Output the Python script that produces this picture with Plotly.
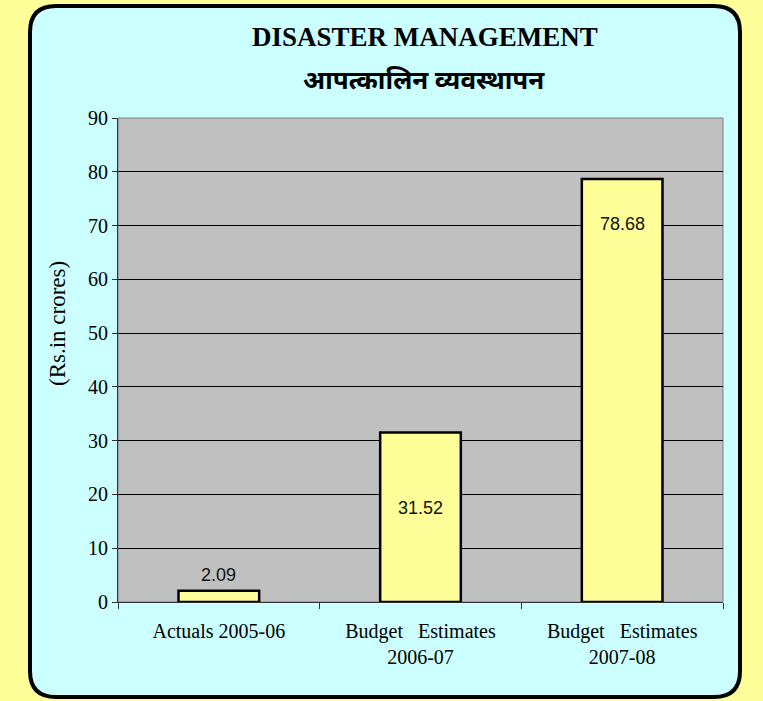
import plotly.graph_objects as go

# chart data
categories = ["Actuals 2005-06", "Budget   Estimates<br>2006-07", "Budget   Estimates<br>2007-08"]
values = [2.09, 31.52, 78.68]
y_ticks = [0, 10, 20, 30, 40, 50, 60, 70, 80, 90]

title_en = "DISASTER MANAGEMENT"
title_hi = "आपत्कालिन व्यवस्थापन"
y_title = "(Rs.in crores)"

W, H = 763, 701
L, R, T, B = 118, 40, 118, 99
serif = "Liberation Serif, Times New Roman, serif"
sans = "Liberation Sans Narrow, Arial Narrow, Liberation Sans, sans-serif"


def px_x(p):
    return (p - L) / (W - L - R)


def px_y(p):
    return (H - B - p) / (H - T - B)


def rounded_box(x0, y0, x1, y1, r):
    # path in paper units built from pixel corners
    rx = r / (W - L - R)
    ry = r / (H - T - B)
    a, b, c, d = px_x(x0), px_x(x1), px_y(y1), px_y(y0)
    return (f"M {a + rx},{c} L {b - rx},{c} Q {b},{c} {b},{c + ry} "
            f"L {b},{d - ry} Q {b},{d} {b - rx},{d} L {a + rx},{d} "
            f"Q {a},{d} {a},{d - ry} L {a},{c + ry} Q {a},{c} {a + rx},{c} Z")


fig = go.Figure()
fig.add_trace(go.Bar(
    x=categories, y=values, width=0.4,
    marker=dict(color="#FFFF99", line=dict(color="black", width=2.5)),
    hoverinfo="skip",
))

# value labels placed against the bars, shifted like the original
label_shift = [16, -76, -45]
for cat, val, sh in zip(categories, values, label_shift):
    fig.add_annotation(x=cat, y=val, text=f"{val:.2f}", showarrow=False, yshift=sh,
                       xanchor="center", yanchor="middle",
                       font=dict(family=sans, size=18, color="#111111"))

fig.add_annotation(xref="paper", yref="paper", x=px_x(425), y=px_y(37), text=f"<b>{title_en}</b>",
                   showarrow=False, xanchor="center", yanchor="middle",
                   font=dict(family=serif, size=27, color="black"))
fig.add_annotation(xref="paper", yref="paper", x=px_x(424), y=px_y(83), text=f"<b>{title_hi}</b>",
                   showarrow=False, xanchor="center", yanchor="middle",
                   font=dict(family="Noto Sans Devanagari, Lohit Devanagari, sans-serif", size=26, color="black"))
fig.add_annotation(xref="paper", yref="paper", x=px_x(57), y=px_y(324), text=y_title, textangle=-90,
                   showarrow=False, xanchor="center", yanchor="middle",
                   font=dict(family=serif, size=23, color="black"))

# cyan rounded panel, then the grey plot area on top of it
fig.add_shape(type="path", xref="paper", yref="paper", layer="below",
              path=rounded_box(30, 6, 740, 697, 26),
              fillcolor="#CCFFFF", line=dict(color="black", width=4))
fig.add_shape(type="rect", xref="paper", yref="paper", layer="below", x0=0, x1=1, y0=0, y1=1,
              fillcolor="#C0C0C0", line=dict(color="#808080", width=1))

fig.update_layout(
    width=W, height=H,
    margin=dict(l=L, r=R, t=T, b=B),
    paper_bgcolor="#FFFF99",
    plot_bgcolor="#C0C0C0",
    showlegend=False,
)
fig.update_xaxes(
    type="category", showgrid=False, showline=True, linecolor="#333333", linewidth=1,
    ticks="outside", tickson="boundaries", ticklen=6, tickcolor="#333333",
    tickfont=dict(family=serif, size=20, color="black"), ticklabelstandoff=11,
)
fig.update_yaxes(
    range=[0, 90], tickvals=y_ticks, showgrid=True, gridcolor="black", gridwidth=1,
    showline=True, linecolor="#333333", linewidth=1, ticks="outside", ticklen=5, tickcolor="#333333",
    tickfont=dict(family=serif, size=20, color="black"), zeroline=False,
)

fig.write_html("out.html", config={"displayModeBar": False},
               post_script="document.body.style.margin='0';")
